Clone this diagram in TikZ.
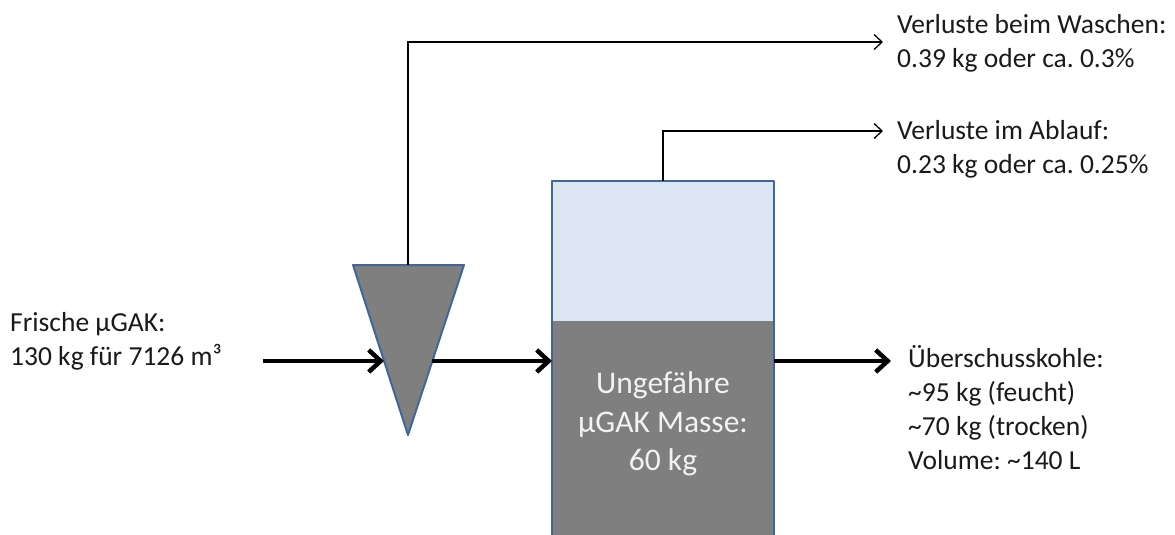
\documentclass[tikz,border=0pt]{standalone}
\usepackage{fontspec}
\setmainfont{Carlito}
\usetikzlibrary{arrows.meta}
\definecolor{tankblue}{HTML}{DCE6F2}
\definecolor{tankgray}{HTML}{7F7F7F}
\definecolor{edgeblue}{HTML}{41669A}
\definecolor{txt}{HTML}{1A1A1A}
\definecolor{tanktxt}{HTML}{F2F2F2}
\frenchspacing
\begin{document}
\begin{tikzpicture}[x=1pt,y=-1pt,
  labeltext/.style={font=\fontsize{27.5}{34}\selectfont, text=txt, align=left, inner sep=0pt, anchor=north west},
  thickflow/.style={line width=4.5pt, -{Straight Barb[length=12pt,width=22pt]}},
  thinflow/.style={line width=1.3pt, -{Straight Barb[length=8pt,width=15pt]}},
  unitedge/.style={draw=edgeblue, line width=2pt, line join=round}]
\useasboundingbox (0,0) rectangle (1175,535);

% hydrocyclone (triangle)
\coordinate (triTL) at (353,265);
\coordinate (triTR) at (464,265);
\coordinate (triB) at (408,435);
\coordinate (triTop) at (408,265);
\coordinate (triInL) at (384,361);
\coordinate (triOutR) at (432,361);
\fill[tankgray] (triTL) -- (triTR) -- (triB) -- cycle;
\draw[unitedge] (triTL) -- (triTR) -- (triB) -- cycle;

% tank
\coordinate (tankTL) at (552,181);
\coordinate (tankTR) at (774,181);
\coordinate (tankML) at (552,321);
\coordinate (tankMR) at (774,321);
\coordinate (tankBL) at (552,545);
\coordinate (tankBR) at (774,545);
\coordinate (tankTop) at (663,181);
\coordinate (tankInL) at (552,361);
\coordinate (tankOutR) at (774,361);
\fill[tankblue] (tankTL) rectangle (tankMR);
\fill[tankgray] (tankML) rectangle (tankBR);
\draw[unitedge] (tankBL) -- (tankTL) -- (tankTR) -- (tankBR);
\node[font=\fontsize{31.5}{38.5}\selectfont, text=tanktxt, align=center] (mass) at (663,424)
  {Ungefähre\\µGAK Masse:\\60 kg};

% labels
\node[labeltext] (fresh) at (10,312) {Frische µGAK:\\130 kg für 7126 m³};
\node[labeltext] (wash) at (897,14) {Verluste beim Waschen:\\0.39 kg oder ca. 0.3\%};
\node[labeltext] (drain) at (897,120) {Verluste im Ablauf:\\0.23 kg oder ca. 0.25\%};
\node[labeltext] (excess) at (908,345) {Überschusskohle:\\\textasciitilde95 kg (feucht)\\\textasciitilde70 kg (trocken)\\Volume: \textasciitilde140 L};

% connector ends
\coordinate (inStart) at (263,361);
\coordinate (washEnd) at (883,42);
\coordinate (drainEnd) at (883,131);
\coordinate (outEnd) at (891,361);

% flows
\draw[thickflow] (inStart) -- (triInL);
\draw[thickflow] (triOutR) -- (tankInL);
\draw[thickflow] (tankOutR) -- (outEnd);
\draw[thinflow] (triTop) |- (washEnd);
\draw[thinflow] (tankTop) |- (drainEnd);
\end{tikzpicture}
\end{document}
